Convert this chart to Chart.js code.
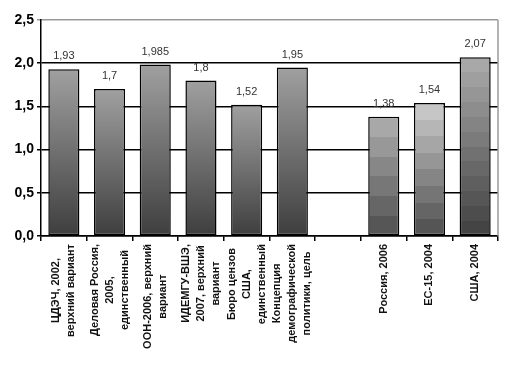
<!DOCTYPE html>
<html>
<head>
<meta charset="utf-8">
<script src="https://cdn.jsdelivr.net/npm/chart.js@4/dist/chart.umd.min.js"></script>
<style>
  html, body { margin: 0; padding: 0; background: #fff; }
  #wrap { width: 511px; height: 365px; }
</style>
</head>
<body>
<div id="wrap"><canvas id="chart" width="511" height="365"></canvas></div>
<script>
// подписи категорий (многострочные)
const categories = [
    ['ЦДЭЧ, 2002,', 'верхний вариант'],
    ['Деловая Россия,', '2005,', 'единственный'],
    ['ООН-2006, верхний', 'вариант'],
    ['ИДЕМГУ-ВШЭ,', '2007, верхний', 'вариант'],
    ['Бюро цензов', 'США,', 'единственный'],
    ['Концепция', 'демографической', 'политики, цель'],
    [''],
    ['Россия, 2006'],
    ['ЕС-15, 2004'],
    ['США, 2004']
];
const values = [1.93, 1.7, 1.985, 1.8, 1.52, 1.95, null, 1.38, 1.54, 2.07];
const yMin = 0, yMax = 2.5, yStep = 0.5;

// заливка столбцов: [верх, низ, число полос (0 = плавно)]
const fills = [
    ['#a0a0a0', '#3e3e3e', 0], ['#a0a0a0', '#3e3e3e', 0], ['#a0a0a0', '#3e3e3e', 0],
    ['#a0a0a0', '#3e3e3e', 0], ['#a0a0a0', '#3e3e3e', 0], ['#a0a0a0', '#3e3e3e', 0],
    ['#a0a0a0', '#3e3e3e', 0],
    ['#a8a8a8', '#565656', 6], ['#c6c6c6', '#555555', 8], ['#a8a8a8', '#444444', 12]
];

function comma(v) {
    return String(v).replace('.', ',');
}

function hexToRgb(h) {
    return [parseInt(h.substr(1, 2), 16), parseInt(h.substr(3, 2), 16), parseInt(h.substr(5, 2), 16)];
}

function mix(a, b, t) {
    const A = hexToRgb(a), B = hexToRgb(b);
    const c = A.map((v, i) => Math.round(v + (B[i] - v) * t));
    return 'rgb(' + c.join(',') + ')';
}

function barFill(context) {
    const chart = context.chart;
    const area = chart.chartArea;
    const v = context.raw;
    if (!area || v == null || !chart.scales.y) return '#888';
    const top = chart.scales.y.getPixelForValue(v);
    const f = fills[context.dataIndex];
    const g = chart.ctx.createLinearGradient(0, top, 0, area.bottom);
    if (!f[2]) {
        g.addColorStop(0, f[0]);
        g.addColorStop(1, f[1]);
    } else {
        const n = f[2];
        for (let i = 0; i < n; i++) {
            const col = mix(f[0], f[1], i / (n - 1));
            g.addColorStop(i / n, col);
            g.addColorStop((i + 1) / n - 0.0001, col);
        }
    }
    return g;
}

// подписи значений над столбцами
const valueLabels = {
    id: 'valueLabels',
    afterDatasetsDraw(chart) {
        const ctx = chart.ctx;
        const meta = chart.getDatasetMeta(0);
        ctx.save();
        ctx.font = '11px "Liberation Sans", Arial, sans-serif';
        ctx.fillStyle = '#333';
        ctx.textAlign = 'center';
        ctx.textBaseline = 'middle';
        meta.data.forEach((el, i) => {
            if (values[i] == null) return;
            ctx.fillText(comma(values[i]), el.x, el.y - 13);
        });
        ctx.restore();
    }
};

// рамка справа и повёрнутые подписи оси X (строки центрированы как в Excel)
const frameAndLabels = {
    id: 'frameAndLabels',
    afterDraw(chart) {
        const ctx = chart.ctx;
        const a = chart.chartArea;
        const xs = chart.scales.x;
        ctx.save();
        ctx.strokeStyle = '#9a9a9a';
        ctx.lineWidth = 1.5;
        ctx.beginPath();
        ctx.moveTo(a.right, a.top);
        ctx.lineTo(a.right, a.bottom);
        ctx.stroke();

        ctx.font = 'bold 11px "Liberation Sans", Arial, sans-serif';
        ctx.fillStyle = '#111';
        ctx.textAlign = 'center';
        ctx.textBaseline = 'middle';
        const lh = 15;
        chart.data.labels.forEach((lab, i) => {
            const lines = Array.isArray(lab) ? lab : [lab];
            if (!lines[0]) return;
            const x = xs.getPixelForValue(i);
            const w = Math.max(...lines.map(l => ctx.measureText(l).width));
            const cy = xs.top + 8 + w / 2;
            lines.forEach((l, j) => {
                const lx = x + (j - (lines.length - 1) / 2) * lh;
                ctx.save();
                ctx.translate(lx, cy);
                ctx.rotate(-Math.PI / 2);
                ctx.fillText(l, 0, 0);
                ctx.restore();
            });
        });
        ctx.restore();
    }
};

new Chart(document.getElementById('chart'), {
    type: 'bar',
    data: {
        labels: categories,
        datasets: [{
            data: values,
            backgroundColor: barFill,
            borderColor: '#000',
            borderWidth: 1.5,
            borderSkipped: false,
            categoryPercentage: 1,
            barPercentage: 0.68
        }]
    },
    options: {
        responsive: false,
        animation: false,
        layout: { padding: { top: 20, right: 13, left: 0, bottom: 0 } },
        plugins: {
            legend: { display: false },
            tooltip: { enabled: false }
        },
        scales: {
            x: {
                afterFit(scale) { scale.height = 129; },
                grid: {
                    offset: true,
                    drawOnChartArea: false,
                    drawTicks: true,
                    tickLength: 5,
                    color: '#000',
                    lineWidth: 1.5
                },
                border: { color: '#000', width: 1.5 },
                ticks: { display: false }
            },
            y: {
                min: yMin,
                max: yMax,
                afterFit(scale) { scale.width = 41; },
                ticks: {
                    stepSize: yStep,
                    color: '#000',
                    padding: 3,
                    font: { family: '"Liberation Sans", Arial, sans-serif', size: 14, weight: 'bold' },
                    callback: v => v.toFixed(1).replace('.', ',')
                },
                grid: {
                    color: c => (c.tick && c.tick.value === yMax ? '#9a9a9a' : '#000'),
                    lineWidth: 1.5,
                    tickLength: 4
                },
                border: { color: '#000', width: 1.5 }
            }
        }
    },
    plugins: [valueLabels, frameAndLabels]
});
</script>
</body>
</html>
